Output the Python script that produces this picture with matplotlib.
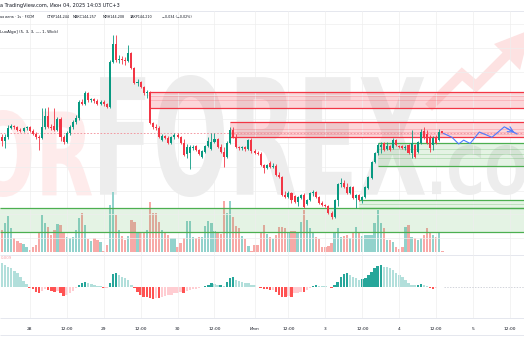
import matplotlib
matplotlib.use("Agg")
import matplotlib.pyplot as plt
from matplotlib.font_manager import FontProperties
from matplotlib.patches import PathPatch, Polygon
from matplotlib.textpath import TextPath
from matplotlib.transforms import Affine2D

# ---------------------------------------------------------------- data
# USD/JPY, 1h bars (FXCM), 28 May - 4 Jun 2025
opens = [144.13, 144.04, 144.13, 144.32, 144.36, 144.34, 144.27, 144.25, 144.32, 144.34,
         144.25, 144.19, 144.13, 144.11, 144.34, 144.57, 144.34, 144.36, 144.27, 144.50,
         144.13, 144.02, 144.21, 144.34, 144.44, 144.53, 144.86, 144.82, 145.05, 144.90,
         144.92, 144.88, 144.82, 144.86, 144.82, 144.76, 145.70, 146.08, 145.74, 145.76,
         145.74, 145.72, 145.89, 145.58, 145.26, 145.28, 145.18, 145.05, 145.07, 144.42,
         144.34, 144.32, 144.06, 144.15, 144.11, 144.00, 144.13, 144.17, 144.13, 144.00,
         143.77, 143.79, 143.90, 143.94, 143.85, 143.71, 143.81, 143.94, 143.88, 144.02,
         144.08, 143.92, 143.81, 143.71, 144.00, 144.27, 144.13, 143.92, 143.90, 143.92,
         143.88, 144.06, 143.83, 143.79, 143.77, 143.54, 143.48, 143.58, 143.50, 143.52,
         143.33, 143.29, 142.91, 142.87, 142.95, 142.89, 142.76, 142.85, 142.91, 142.72,
         142.80, 142.95, 142.97, 142.87, 142.74, 142.70, 142.68, 142.53, 142.45, 142.80,
         143.14, 143.16, 143.08, 142.95, 143.08, 142.85, 142.91, 142.80, 142.87, 143.06,
         143.27, 143.60, 143.79, 143.92, 144.00, 143.87, 143.94, 143.90, 144.06, 143.94,
         143.94, 143.90, 143.96, 143.79, 143.96, 143.81, 144.00, 144.25, 144.19, 144.13,
         143.96, 144.13, 144.06, 144.244]
highs = [144.19, 144.19, 144.38, 144.40, 144.38, 144.36, 144.32, 144.34, 144.36, 144.36,
         144.29, 144.23, 144.17, 144.74, 144.74, 144.76, 144.40, 144.74, 144.55, 144.55,
         144.17, 144.25, 144.38, 144.48, 144.59, 144.90, 144.92, 145.09, 145.07, 144.95,
         144.95, 144.92, 144.90, 144.90, 144.84, 145.74, 146.27, 146.27, 145.85, 145.83,
         145.81, 146.06, 145.91, 145.60, 145.34, 145.30, 145.20, 145.11, 145.09, 144.44,
         144.40, 144.36, 144.19, 144.17, 144.15, 144.15, 144.21, 144.21, 144.15, 144.08,
         143.98, 143.96, 143.96, 143.96, 143.87, 143.85, 143.96, 144.13, 144.21, 144.21,
         144.10, 143.98, 143.92, 144.04, 144.34, 144.34, 144.19, 143.94, 143.94, 143.94,
         144.08, 144.11, 143.87, 143.83, 143.81, 143.56, 143.56, 143.62, 143.58, 143.56,
         143.39, 143.31, 142.99, 142.99, 142.97, 142.91, 142.89, 142.93, 142.95, 142.82,
         142.97, 143.01, 142.99, 142.89, 142.78, 142.72, 142.70, 142.57, 142.82, 143.16,
         143.27, 143.22, 143.16, 143.10, 143.10, 142.93, 142.93, 142.89, 143.10, 143.31,
         143.62, 143.81, 144.00, 144.02, 144.02, 144.02, 143.96, 144.11, 144.08, 143.96,
         143.96, 143.96, 143.98, 144.27, 143.98, 144.04, 144.29, 144.34, 144.27, 144.17,
         144.15, 144.17, 144.29, 144.257]
lows = [143.94, 143.90, 144.08, 144.29, 144.29, 144.25, 144.23, 144.23, 144.27, 144.23,
        144.17, 144.08, 143.85, 144.08, 144.29, 144.32, 144.27, 144.25, 144.25, 144.04,
        143.98, 144.00, 144.17, 144.29, 144.40, 144.48, 144.80, 144.80, 144.86, 144.86,
        144.84, 144.80, 144.80, 144.78, 144.74, 144.74, 145.68, 145.70, 145.68, 145.66,
        145.64, 145.70, 145.55, 145.24, 145.20, 145.16, 145.01, 144.95, 144.40, 144.29,
        144.27, 144.11, 144.04, 144.08, 143.98, 143.98, 144.08, 144.11, 143.98, 143.73,
        143.69, 143.45, 143.85, 143.83, 143.75, 143.69, 143.79, 143.92, 143.85, 144.00,
        143.90, 143.79, 143.50, 143.69, 143.98, 144.11, 143.90, 143.85, 143.85, 143.83,
        143.85, 143.79, 143.77, 143.75, 143.52, 143.37, 143.45, 143.48, 143.48, 143.31,
        143.27, 142.89, 142.85, 142.85, 142.74, 142.74, 142.68, 142.83, 142.64, 142.70,
        142.78, 142.89, 142.85, 142.72, 142.68, 142.66, 142.51, 142.40, 142.43, 142.68,
        143.08, 143.05, 142.93, 142.93, 142.82, 142.64, 142.78, 142.74, 142.85, 143.03,
        143.25, 143.58, 143.75, 143.79, 143.83, 143.85, 143.83, 143.87, 143.94, 143.90,
        143.87, 143.85, 143.77, 143.69, 143.69, 143.79, 143.98, 144.08, 143.98, 143.81,
        143.85, 143.98, 144.04, 144.208]
closes = [144.04, 144.13, 144.32, 144.36, 144.34, 144.27, 144.25, 144.32, 144.34, 144.25,
          144.19, 144.13, 144.11, 144.34, 144.57, 144.34, 144.32, 144.27, 144.50, 144.13,
          144.02, 144.21, 144.34, 144.44, 144.53, 144.86, 144.82, 145.05, 144.90, 144.92,
          144.88, 144.82, 144.86, 144.82, 144.76, 145.70, 146.08, 145.74, 145.76, 145.74,
          145.72, 145.89, 145.58, 145.26, 145.28, 145.18, 145.05, 145.07, 144.42, 144.34,
          144.32, 144.13, 144.15, 144.11, 144.00, 144.13, 144.17, 144.13, 144.00, 143.75,
          143.92, 143.92, 143.92, 143.85, 143.77, 143.83, 143.94, 144.04, 144.02, 144.08,
          143.92, 143.81, 143.71, 144.00, 144.27, 144.13, 143.92, 143.90, 143.92, 143.88,
          144.06, 143.83, 143.79, 143.77, 143.54, 143.48, 143.54, 143.50, 143.52, 143.33,
          143.29, 142.91, 142.87, 142.95, 142.80, 142.76, 142.87, 142.91, 142.66, 142.80,
          142.95, 142.97, 142.87, 142.74, 142.70, 142.68, 142.53, 142.45, 142.80, 143.14,
          143.16, 143.08, 142.95, 143.08, 142.85, 142.91, 142.80, 142.87, 143.08, 143.29,
          143.60, 143.79, 143.96, 143.96, 143.85, 143.94, 143.85, 144.06, 143.96, 143.92,
          143.90, 143.92, 143.79, 144.00, 143.71, 144.02, 144.23, 144.11, 144.00, 143.90,
          144.11, 144.00, 144.23, 144.210]
volumes = [2200, 2930, 3600, 2370, 1370, 1130, 930, 800, 470, 200,
           470, 700, 2030, 3700, 2870, 2470, 1700, 2200, 2770, 2700,
           2030, 1530, 1430, 1530, 2200, 3430, 3870, 2700, 1270, 1130,
           1430, 1200, 1030, 100, 700, 4670, 5970, 3700, 2200, 1630,
           1200, 1600, 3200, 3030, 2030, 1930, 2030, 2200, 4970, 3930,
           3870, 3030, 2200, 1870, 1700, 1370, 1430, 530, 870, 1370,
           3130, 3130, 1530, 1430, 1530, 1530, 2600, 3130, 2870, 2100,
           1930, 1770, 5130, 3930, 5130, 3530, 2600, 2370, 1600, 1270,
           600, 100, 700, 700, 2030, 2700, 1770, 1530, 1270, 1700,
           2530, 2530, 2370, 2030, 2100, 2100, 2030, 3030, 4200, 3200,
           2370, 1870, 1530, 1270, 530, 470, 600, 930, 2030, 2370,
           1530, 1600, 1700, 1370, 1930, 2530, 2030, 1630, 1700, 1700,
           1700, 2870, 4200, 2930, 2370, 1200, 1200, 1030, 470, 270,
           470, 2470, 2700, 1530, 1370, 1200, 1370, 1700, 2370, 2030,
           1700, 1530, 2030, 130]
# oscillator histogram, in units of 1e-4
osc_hist = [70, 65, 60, 55, 48, 40, 30, 18, 8, -3,
            -8, -15, -20, -12, -8, -10, -14, -16, -12, -20,
            -28, -25, -18, -12, -5, 5, 10, 15, 12, 8,
            5, 3, 1, -4, -3, 12, 38, 42, 35, 30,
            25, 20, 5, -5, -15, -25, -30, -32, -35, -36,
            -33, -33, -30, -28, -26, -24, -20, -18, -16, -20,
            -12, -10, -8, -6, -4, -2, 2, 6, 10, 8,
            5, 6, 3, 15, 25, 28, 20, 16, 14, 12,
            10, 6, 4, -2, -5, -6, -8, -10, -9, -15,
            -25, -30, -32, -28, -30, -20, -18, -15, -16, -10,
            -5, 3, 5, 3, 2, 2, -2, -3, 5, 15,
            28, 38, 40, 35, 30, 25, 20, 22, 25, 35,
            45, 55, 62, 65, 60, 58, 55, 50, 42, 35,
            28, 20, 12, 5, 4, 5, 8, 6, 1, -3,
            -8, -3, -2, -1]

tick_idx = [9, 21, 33, 45, 57, 69, 82, 93, 105, 117, 129, 141, 153, 165]
tick_labels = ["28", "12:00", "29", "12:00", "30", "12:00", "Июн", "12:00",
               "3", "12:00", "4", "12:00", "5", "12:00"]
price_grid = [142.0, 142.5, 143.0, 143.5, 144.0, 144.5, 145.0, 145.5, 146.0, 146.5]
last_price = 144.21

# zones: (first bar, top, bottom, inner levels)
red_zones = [(48, 145.07, 144.74, [144.99, 144.90]),
             (74, 144.44, 144.13, [144.29, 144.24, 144.18])]
green_zones = [(122, 143.99, 143.52, [143.88, 143.77, 143.69]),
               (116, 142.80, 142.64, [142.72]),
               (-1, 142.64, 142.13, [])]

# projected path
proj_idx = [143.4, 146.1, 148.3, 149.9, 152.0, 155.0, 159.1, 163.1, 167.2]
proj_price = [144.20, 144.12, 143.98, 144.06, 143.99, 144.23, 144.12, 144.34, 144.19]

# ---------------------------------------------------------------- layout
W, H = 524, 350
XMIN, XMAX = -0.65, 169.5
GREEN, RED = "#089981", "#f23645"
ZONE_GREEN = "#4caf50"
TXT = "#131722"


def px_box(x0, y0, x1, y1):
    return [x0 / W, 1 - y1 / H, (x1 - x0) / W, (y1 - y0) / H]


def stretched_text(axis, s, box, color):
    # watermark letters stretched into a pixel box
    tp = TextPath((0, 0), s, size=100, prop=FontProperties(family="DejaVu Sans", weight="bold"))
    bb = tp.get_extents()
    x0, y0, x1, y1 = box
    tr = (Affine2D().translate(-bb.x0, -bb.y0)
          .scale((x1 - x0) / bb.width, -(y1 - y0) / bb.height)
          .translate(x0, y1))
    axis.add_patch(PathPatch(tr.transform_path(tp), color=color, lw=0))


fig = plt.figure(figsize=(W / 100, H / 100), dpi=100)
fig.patch.set_facecolor("white")

ax_bg = fig.add_axes([0, 0, 1, 1], zorder=0)
ax_bg.set_xlim(0, W)
ax_bg.set_ylim(H, 0)
ax_bg.axis("off")

price_box = px_box(0, 11, W, 255)
ax_vol = fig.add_axes(price_box, zorder=1)
ax = fig.add_axes(price_box, zorder=2)
ax_osc = fig.add_axes(px_box(0, 255, W, 318), zorder=2)

for a in (ax_vol, ax, ax_osc):
    a.set_facecolor("none")
    a.set_xlim(XMIN, XMAX)
    for s in a.spines.values():
        s.set_visible(False)
    a.tick_params(length=0, labelleft=False, labelbottom=False)
    a.set_yticks([])

# watermark
stretched_text(ax_bg, "OR", (-25, 110, 92, 197), "#feebeb")
stretched_text(ax_bg, "FOREX", (100, 75, 425, 197), "#ededed")
stretched_text(ax_bg, ".COM", (432, 145, 575, 195), "#ededed")
ax_bg.plot([432, 462, 476, 510], [104, 74, 86, 52], color="#fde2e2", lw=7,
           solid_joinstyle="miter")
ax_bg.add_patch(Polygon([(530, 30), (494, 44), (520, 70)], color="#fde2e2", lw=0))

# pane separators
ax_bg.hlines([11, 255, 318, 335], 0, W, colors="#e0e3eb", lw=0.6)

# ---------------------------------------------------------------- price pane
x = list(range(len(closes)))
colors = [GREEN if c >= o else RED for o, c in zip(opens, closes)]

ax.set_ylim(141.648, 146.772)
ax.set_yticks(price_grid)
ax.set_xticks(tick_idx)
ax.grid(True, color="#eeeeee", lw=0.5, zorder=0)

for start, top, bot, inner in red_zones:
    ax.fill_between([start, XMAX], bot, top, color=RED, alpha=0.2, lw=0, zorder=1)
    ax.hlines(inner, start, XMAX, colors=RED, lw=0.4, alpha=0.35, zorder=2)
    ax.hlines([top, bot], start, XMAX, colors=RED, lw=0.9, zorder=2)
for start, top, bot, inner in green_zones:
    x0 = max(start, XMIN)
    ax.fill_between([x0, XMAX], bot, top, color=ZONE_GREEN, alpha=0.15, lw=0, zorder=1)
    ax.hlines(inner, x0, XMAX, colors=ZONE_GREEN, lw=0.4, alpha=0.45, zorder=2)
    ax.hlines([top, bot], x0, XMAX, colors=ZONE_GREEN, lw=0.9, zorder=2)

ax.axhline(last_price, color="#f28b95", lw=0.6, ls=(0, (2, 2)), zorder=2)

bottoms = [min(o, c) for o, c in zip(opens, closes)]
heights = [max(abs(c - o), 0.008) for o, c in zip(opens, closes)]
ax.vlines(x, lows, highs, colors=colors, lw=0.6, zorder=4)
ax.bar(x, heights, bottom=bottoms, width=0.66, color=colors, lw=0, zorder=5)

ax.plot(proj_idx, proj_price, color="#4d7cff", lw=0.8, zorder=6)
ax.annotate("", xy=(proj_idx[-1], proj_price[-1]), xytext=(proj_idx[-2], proj_price[-2]),
            arrowprops=dict(arrowstyle="->", color="#4d7cff", lw=0.8), zorder=6)

# volume overlay
vol_colors = ["#92d2cc" if c >= o else "#f7a9a7" for o, c in zip(opens, closes)]
ax_vol.bar(x, volumes, width=0.75, color=vol_colors, lw=0)
ax_vol.set_ylim(-300, 24100)

# ---------------------------------------------------------------- oscillator
hist = [v * 1e-4 for v in osc_hist]
osc_colors = []
for i, v in enumerate(hist):
    prev = hist[i - 1] if i else v
    if v >= 0:
        osc_colors.append("#26a69a" if v > prev else "#b2dfdb")
    else:
        osc_colors.append("#ffcdd2" if v > prev else "#ff5252")
ax_osc.bar(x, hist, width=0.8, color=osc_colors, lw=0)
ax_osc.hlines(0, x[-1] + 0.5, XMAX, colors="#c0c3cc", lw=0.5, linestyles=(0, (2, 2)))
ax_osc.set_ylim(-0.0094, 0.0095)
ax_osc.set_xticks(tick_idx, tick_labels)
ax_osc.grid(True, axis="x", color="#eeeeee", lw=0.5)
ax_osc.tick_params(axis="x", labelbottom=True, labelsize=3.2, pad=6.5, labelcolor=TXT)

# ---------------------------------------------------------------- header texts
fig.text(0, 1 - 5 / H, "а TradingView.com, Июн 04, 2025 14:03 UTC+3",
         fontsize=3.6, color=TXT, va="center")
for label, px in [("ая иена · 1ч · FXCM", 0), ("ОТКР144,244", 47), ("МАКС144,257", 73),
                  ("МИН144,208", 103), ("ЗАКР144,210", 130), ("−0,034 (−0,02%)", 162)]:
    fig.text(px / W, 1 - 17 / H, label, fontsize=2.4, color=TXT, va="center")
fig.text(0, 1 - 32 / H, "LuxAlgo] (5, 3, 3, —, 1, Wick)", fontsize=2.9, color=TXT, va="center")
fig.text(1 / W, 1 - 258 / H, "0,009", fontsize=2.8, color="#f7a1a8", va="center")

fig.savefig("out.png", dpi=100)
